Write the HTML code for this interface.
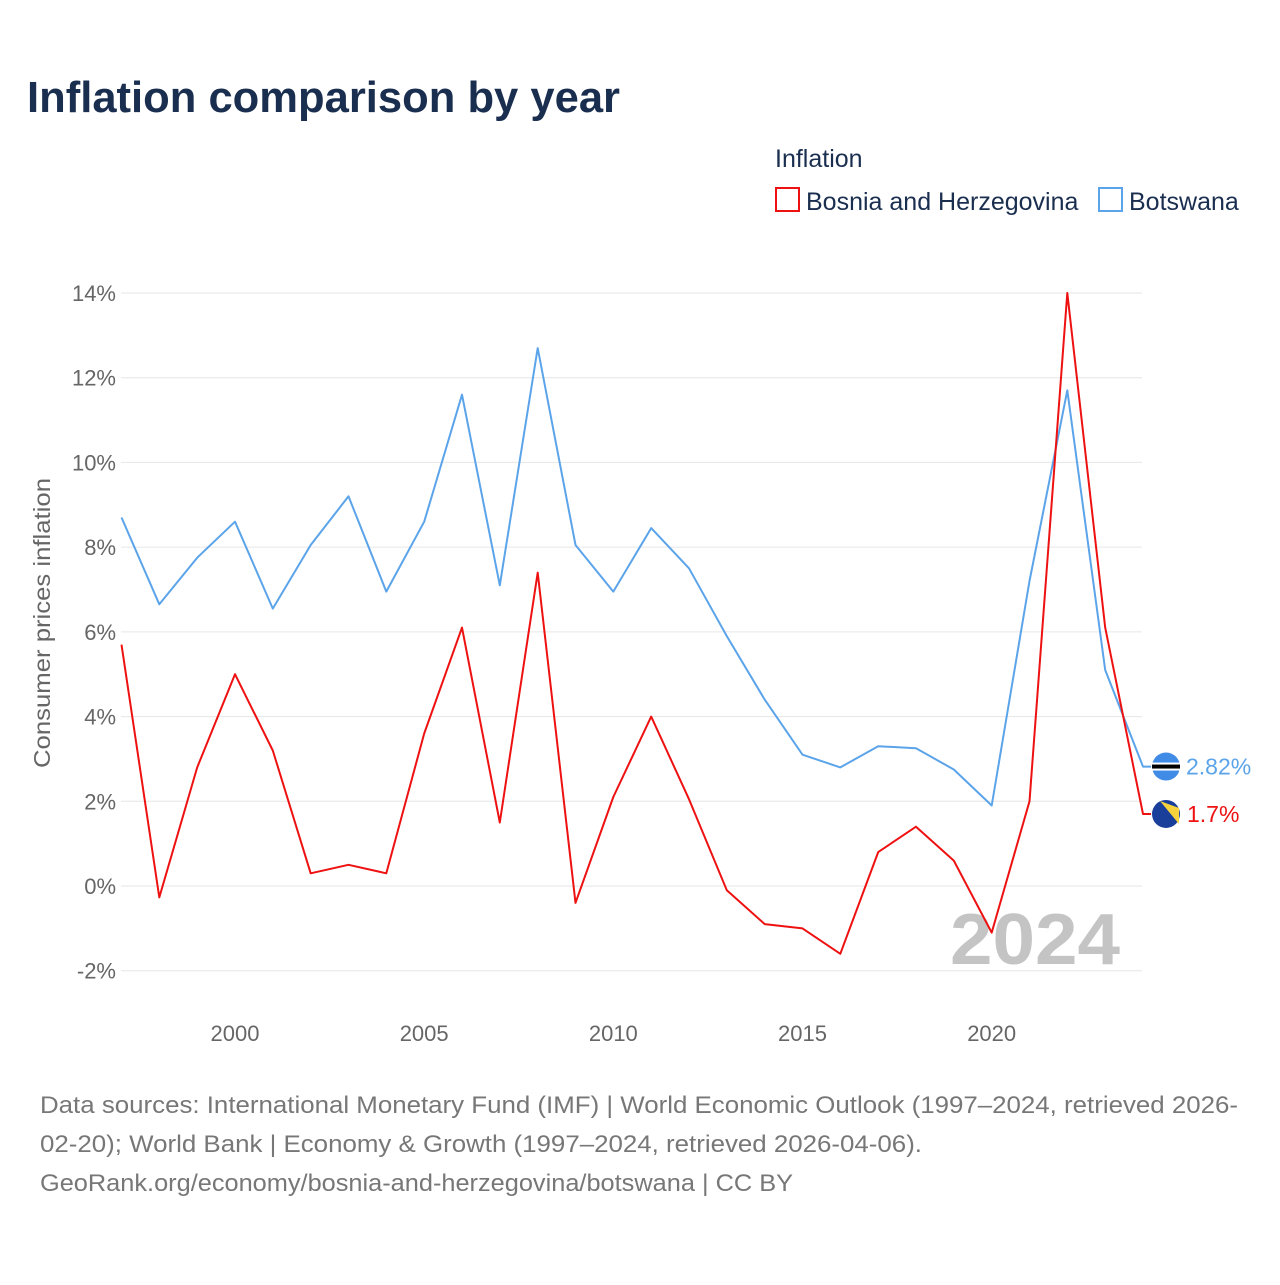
<!DOCTYPE html>
<html><head><meta charset="utf-8">
<style>
body{margin:0;background:#fff;font-family:"Liberation Sans",sans-serif;}
svg text{font-family:"Liberation Sans",sans-serif;}
</style></head>
<body>
<svg width="1280" height="1280" xmlns="http://www.w3.org/2000/svg">
<text x="27" y="112" font-size="44" font-weight="bold" fill="#1a2e4f" textLength="593" lengthAdjust="spacingAndGlyphs">Inflation comparison by year</text>
<text x="775" y="167" font-size="25" fill="#1a2e4f">Inflation</text>
<g>
<rect x="776" y="188" width="23" height="23" fill="none" stroke="#ee1111" stroke-width="2"/>
<text x="806" y="210" font-size="25" fill="#1a2e4f">Bosnia and Herzegovina</text></g>
<g>
<rect x="1099" y="188" width="23" height="23" fill="none" stroke="#5ba4ea" stroke-width="2"/>
<text x="1129" y="210" font-size="25" fill="#1a2e4f">Botswana</text></g>
<g id="grid"></g><g id="yt"></g><g id="xt"></g>
<text transform="translate(50,623) rotate(-90)" text-anchor="middle" font-size="23" fill="#666" textLength="290" lengthAdjust="spacingAndGlyphs">Consumer prices inflation</text>
<text x="950" y="964" font-size="72" font-weight="bold" fill="#c4c4c4" textLength="170" lengthAdjust="spacingAndGlyphs">2024</text>
<g id="lines"></g>
<text x="40" y="1113" font-size="24" fill="#777" textLength="1198" lengthAdjust="spacingAndGlyphs">Data sources: International Monetary Fund (IMF) | World Economic Outlook (1997–2024, retrieved 2026-</text>
<text x="40" y="1152" font-size="24" fill="#777" textLength="882" lengthAdjust="spacingAndGlyphs">02-20); World Bank | Economy &amp; Growth (1997–2024, retrieved 2026-04-06).</text>
<text x="40" y="1191" font-size="24" fill="#777" textLength="753" lengthAdjust="spacingAndGlyphs">GeoRank.org/economy/bosnia-and-herzegovina/botswana | CC BY</text>
</svg>
<script>
const years=[1997,1998,1999,2000,2001,2002,2003,2004,2005,2006,2007,2008,2009,2010,2011,2012,2013,2014,2015,2016,2017,2018,2019,2020,2021,2022,2023,2024];
const bosnia=[5.7,-0.27,2.8,5.0,3.2,0.3,0.5,0.3,3.6,6.1,1.5,7.4,-0.4,2.1,4.0,2.05,-0.1,-0.9,-1.0,-1.6,0.8,1.4,0.6,-1.1,2.0,14.0,6.1,1.7];
const botswana=[8.7,6.65,7.75,8.6,6.55,8.05,9.2,6.95,8.6,11.6,7.1,12.7,8.05,6.95,8.45,7.5,5.9,4.4,3.1,2.8,3.3,3.25,2.75,1.9,7.2,11.7,5.1,2.82];
const yTicks=[-2,0,2,4,6,8,10,12,14];
const xTicks=[2000,2005,2010,2015,2020];
const NS="http://www.w3.org/2000/svg";
const x=v=>121.5+(v-1997)*(1143-121.5)/27;
const y=v=>886-v*(886-293)/14;
function mk(t,a,p){const e=document.createElementNS(NS,t);for(const k in a)e.setAttribute(k,a[k]);p.appendChild(e);return e;}
const grid=document.getElementById('grid'),yt=document.getElementById('yt'),xt=document.getElementById('xt'),lines=document.getElementById('lines');
yTicks.forEach(v=>{
const l=mk('line',{x1:121,x2:1142,y1:y(v),y2:y(v),stroke:'#e6e6e6','stroke-width':1},grid);


const t=mk('text',{x:116,y:y(v)+8,'text-anchor':'end','font-size':22,fill:'#666'},yt);t.textContent=v+'%';


});
xTicks.forEach(v=>{
const t=mk('text',{x:x(v),y:1041,'text-anchor':'middle','font-size':22,fill:'#666'},xt);t.textContent=v;


});
function series(vals,color,name){
let d=vals.map((v,i)=>(i?'L':'M')+x(years[i]).toFixed(1)+','+y(v).toFixed(1)).join(' ');
d+=' L'+(x(2024)+8)+','+y(vals[vals.length-1]).toFixed(1);
const p=mk('path',{d:d,fill:'none',stroke:color,'stroke-width':2,'stroke-linejoin':'round'},lines);


}
series(botswana,'#5ba4ea','botswana');
series(bosnia,'#ee1111','bosnia');
const bw=y(botswana[27]),bh=y(bosnia[27]);
const g1=mk('g',{},lines);


mk('circle',{cx:1166,cy:bw,r:14,fill:'#3f8be6'},g1);
mk('rect',{x:1152,y:bw-4,width:28,height:8,fill:'#fff'},g1);
mk('rect',{x:1152,y:bw-2,width:28,height:4,fill:'#000'},g1);
const t1=mk('text',{x:1186,y:bw+8,'font-size':23,fill:'#5ba4ea'},lines);t1.textContent='2.82%';


const g2=mk('g',{},lines);


mk('circle',{cx:1166,cy:bh,r:14,fill:'#1a3f9a'},g2);
mk('path',{d:`M1160,${bh-13} L1179,${bh-6} L1179,${bh+10} Z`,fill:'#f6d33c'},g2);
const t2=mk('text',{x:1187,y:bh+8,'font-size':23,fill:'#ee1111'},lines);t2.textContent='1.7%';


</script>
</body></html>
